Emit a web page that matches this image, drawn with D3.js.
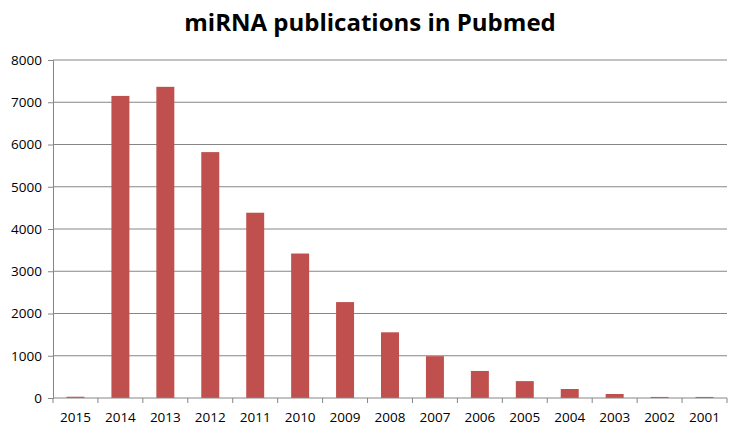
<!DOCTYPE html>
<html>
<head>
<meta charset="utf-8">
<script src="https://cdn.jsdelivr.net/npm/d3@7"></script>
<style>
  body { margin: 0; background: #fff; }
  svg text { font-family: "Open Sans", "DejaVu Sans", sans-serif; }
</style>
</head>
<body>
<svg width="737" height="438"></svg>
<script>
// Chart data
const years = ["2015", "2014", "2013", "2012", "2011", "2010", "2009", "2008",
  "2007", "2006", "2005", "2004", "2003", "2002", "2001"];
const publications = [30, 7150, 7365, 5820, 4385, 3420, 2270, 1555,
  990, 640, 400, 213, 95, 25, 25];
const yTicks = [0, 1000, 2000, 3000, 4000, 5000, 6000, 7000, 8000];

const svg = d3.select("svg");
const margin = { top: 60, right: 10, bottom: 40, left: 53 };
const width = 727 - margin.left;
const height = 398 - margin.top;

const x = d3.scaleBand().domain(years).range([0, width]).paddingInner(0.6).paddingOuter(0.3);
const y = d3.scaleLinear().domain([0, 8000]).range([height, 0]);

// Title
svg.append("text")
  .attr("x", 370)
  .attr("y", 31)
  .attr("text-anchor", "middle")
  .attr("font-size", "24px")
  .attr("font-weight", "bold")
  .attr("fill", "#000")
  .text("miRNA publications in Pubmed");

const g = svg.append("g").attr("transform", `translate(${margin.left},${margin.top})`);

// Gridlines
g.append("g")
  .selectAll("line")
  .data(yTicks.slice(1))
  .enter()
  .append("line")
  .attr("x1", 0)
  .attr("x2", width)
  .attr("y1", (d) => y(d))
  .attr("y2", (d) => y(d))
  .attr("stroke", "#868686")
  .attr("stroke-width", 1);

// Bars
g.append("g")
  .selectAll("rect")
  .data(years)
  .enter()
  .append("rect")
  .attr("x", (d) => x(d))
  .attr("y", (d, i) => y(publications[i]))
  .attr("width", x.bandwidth())
  .attr("height", (d, i) => height - y(publications[i]))
  .attr("fill", "#C0504D");

// Y axis
const yAxis = g.append("g")
  .call(d3.axisLeft(y).tickValues(yTicks).tickFormat(d3.format("d")).tickSize(5).tickPadding(6));
yAxis.selectAll("text").attr("font-size", "13.5px").attr("fill", "#000");
yAxis.selectAll("line, path").attr("stroke", "#868686");

// X axis: ticks at category boundaries
const xAxis = g.append("g").attr("transform", `translate(0,${height})`);
xAxis.append("line")
  .attr("x1", 0).attr("x2", width)
  .attr("stroke", "#868686");
const step = width / years.length;
xAxis.selectAll(".tick")
  .data(d3.range(years.length + 1))
  .enter()
  .append("line")
  .attr("x1", (d) => d * step)
  .attr("x2", (d) => d * step)
  .attr("y1", 0)
  .attr("y2", 5)
  .attr("stroke", "#868686");
xAxis.selectAll("text")
  .data(years)
  .enter()
  .append("text")
  .attr("x", (d) => x(d) + x.bandwidth() / 2)
  .attr("y", 24)
  .attr("text-anchor", "middle")
  .attr("font-size", "13.5px")
  .attr("fill", "#000")
  .text((d) => d);
</script>
</body>
</html>
